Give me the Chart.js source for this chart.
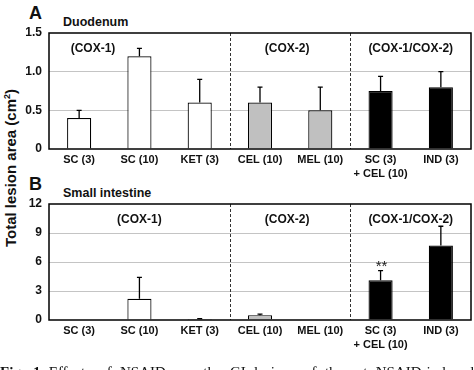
<!DOCTYPE html>
<html lang="en">
<head>
<meta charset="UTF-8" />
<title>NSAID lesion area</title>
<script src="https://cdn.jsdelivr.net/npm/chart.js"></script>
<style>
  html, body { margin: 0; padding: 0; background: #fff; }
  body { width: 474px; height: 370px; overflow: hidden; position: relative; font-family: "Liberation Sans", Arial, sans-serif; color: #111; }
  canvas { position: absolute; left: 0; }
  #chartA { top: 0; }
  #chartB { top: 171px; }
  .txt { position: absolute; font-weight: bold; white-space: nowrap; }
  .letter { font-size: 18px; line-height: 18px; left: 29px; }
  .title { font-size: 12.5px; line-height: 12.5px; left: 63px; }
  .ytitle { font-size: 15px; left: 10px; top: 168px; transform: translate(-50%, -50%) rotate(-90deg); }
  .caption { position: absolute; left: 0; width: 474px; top: 365px; font-family: "Liberation Serif", "DejaVu Serif", serif; font-size: 15px; line-height: 15px; text-align: justify; text-align-last: justify; white-space: nowrap; }
</style>
</head>
<body>
  <div class="txt letter" style="top:4px">A</div>
  <div class="txt title" style="top:16px">Duodenum</div>
  <div class="txt letter" style="top:175px">B</div>
  <div class="txt title" style="top:187px">Small intestine</div>
  <div class="txt ytitle">Total lesion area (cm<sup style="font-size:9px">2</sup>)</div>
  <canvas id="chartA" width="474" height="190"></canvas>
  <canvas id="chartB" width="474" height="190"></canvas>
  <div class="caption" style="white-space:normal"><b>Fig. 1</b> Effects of NSAIDs on the GI lesions of the rat NSAID-induced</div>

<script>
// categories (drug and dose, mg/kg)
const categories = [["SC (3)"], ["SC (10)"], ["KET (3)"], ["CEL (10)"], ["MEL (10)"], ["SC (3)", "+ CEL (10)"], ["IND (3)"]];
const barColors = ["#ffffff", "#ffffff", "#ffffff", "#c0c0c0", "#c0c0c0", "#000000", "#000000"];
const groupNames = ["(COX-1)", "(COX-2)", "(COX-1/COX-2)"];
const dividersAfter = [2, 4];

// A: duodenum
const duodenumMean = [0.4, 1.2, 0.6, 0.6, 0.5, 0.75, 0.8];
const duodenumErr = [0.1, 0.1, 0.3, 0.2, 0.3, 0.19, 0.2];
const duodenumTicks = [0, 0.5, 1.0, 1.5];

// B: small intestine
const smallIntMean = [0, 2.2, 0.1, 0.5, 0.05, 4.1, 7.7];
const smallIntErr = [0, 2.2, 0.05, 0.1, 0, 1.0, 2.0];
const smallIntTicks = [0, 3, 6, 9, 12];
const smallIntStars = ["", "", "", "", "", "**", ""];

const panelDecor = {
  id: "panelDecor",
  afterDatasetsDraw(chart, args, opts) {
    const { ctx, chartArea: a, scales: { x, y } } = chart;
    const meta = chart.getDatasetMeta(0);
    ctx.save();

    // upper error bars
    ctx.strokeStyle = "#000";
    ctx.lineWidth = 1.3;
    meta.data.forEach((bar, i) => {
      const e = opts.err[i];
      if (!e) return;
      const top = y.getPixelForValue(opts.mean[i] + e);
      ctx.beginPath();
      ctx.moveTo(bar.x, bar.y);
      ctx.lineTo(bar.x, top);
      ctx.moveTo(bar.x - 2.5, top);
      ctx.lineTo(bar.x + 2.5, top);
      ctx.stroke();
      if (opts.stars && opts.stars[i]) {
        ctx.fillStyle = "#222";
        ctx.font = "15px 'Liberation Sans', Arial";
        ctx.textAlign = "center";
        ctx.textBaseline = "alphabetic";
        ctx.fillText(opts.stars[i], bar.x + 1, top);
      }
    });

    // dashed group dividers
    ctx.setLineDash([3, 2]);
    ctx.strokeStyle = "#333";
    ctx.lineWidth = 1;
    dividersAfter.forEach(i => {
      const px = Math.round((x.getPixelForValue(i) + x.getPixelForValue(i + 1)) / 2) + 0.5;
      ctx.beginPath();
      ctx.moveTo(px, a.top);
      ctx.lineTo(px, a.bottom);
      ctx.stroke();
    });
    ctx.setLineDash([]);

    // frame
    ctx.strokeStyle = "#000";
    ctx.lineWidth = 1.5;
    ctx.strokeRect(a.left, a.top, a.width, a.height);

    // group labels
    ctx.fillStyle = "#111";
    ctx.font = "bold 12px 'Liberation Sans', Arial";
    ctx.textAlign = "center";
    ctx.textBaseline = "middle";
    groupNames.forEach((g, i) => {
      const pos = opts.groupAt[i];
      const step = x.getPixelForValue(1) - x.getPixelForValue(0);
      const px = x.getPixelForValue(0) + pos * step;
      ctx.fillText(g, px, a.top + 16);
    });
    ctx.restore();
  }
};

function makeChart(id, mean, err, ticks, groupAt, stars, fmt) {
  const yMax = ticks[ticks.length - 1];
  return new Chart(document.getElementById(id), {
    type: "bar",
    data: {
      labels: categories,
      datasets: [{
        data: mean,
        backgroundColor: barColors,
        borderColor: "#000",
        borderWidth: 1.2,
        barPercentage: 0.4,
        categoryPercentage: 1
      }]
    },
    options: {
      responsive: false,
      animation: false,
      devicePixelRatio: 1,
      layout: { padding: { top: 33, right: 3, left: 0, bottom: 0 } },
      plugins: {
        legend: { display: false },
        tooltip: { enabled: false },
        panelDecor: { mean, err, groupAt, stars }
      },
      scales: {
        x: {
          grid: { display: false, drawTicks: false },
          border: { display: false },
          ticks: {
            padding: 4,
            color: "#111",
            maxRotation: 0,
            autoSkip: false,
            font: { family: "'Liberation Sans', Arial", weight: "bold", size: 11, lineHeight: 1.3 }
          },
          afterFit(s) { s.height = 41; }
        },
        y: {
          min: 0,
          max: yMax,
          grid: {
            drawTicks: false,
            lineWidth: 1,
            color: c => (c.tick.value === 0 || c.tick.value === yMax) ? "rgba(0,0,0,0)" : "#c4c4c4"
          },
          border: { display: false },
          afterBuildTicks(s) { s.ticks = ticks.map(v => ({ value: v })); },
          ticks: {
            padding: 7,
            color: "#111",
            font: { family: "'Liberation Sans', Arial", weight: "bold", size: 12 },
            callback: fmt
          },
          afterFit(s) { s.width = 49; }
        }
      }
    },
    plugins: [panelDecor]
  });
}

makeChart("chartA", duodenumMean, duodenumErr, duodenumTicks, [0.23, 3.45, 5.5], null,
  v => v === 0 ? "0" : v.toFixed(1));
makeChart("chartB", smallIntMean, smallIntErr, smallIntTicks, [1, 3.45, 5.5], smallIntStars,
  v => String(v));
</script>
</body>
</html>
